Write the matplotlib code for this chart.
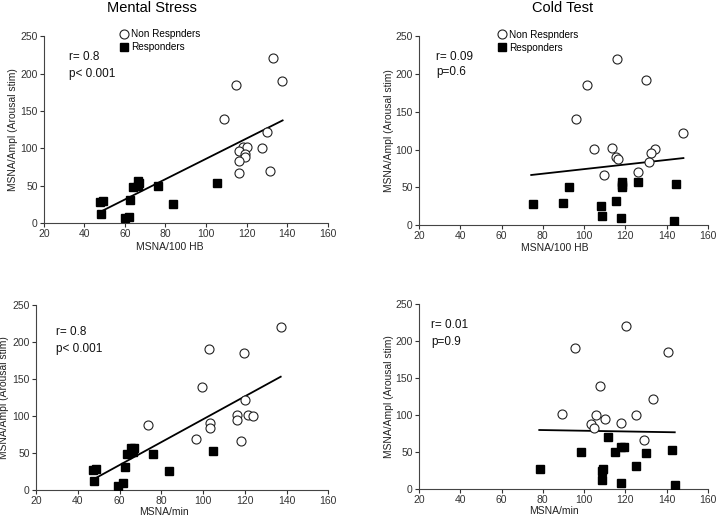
import matplotlib
matplotlib.use("Agg")
import matplotlib.pyplot as plt

plt.rcParams['font.family'] = ['Liberation Sans', 'DejaVu Sans']

# --- Mental stress, MSNA/100 HB ---
ms_hb_non_x = [133.2, 137.5, 114.8, 109.1, 130.1, 127.8, 118.1, 120.4, 116.5, 119.4, 119.2, 116.1, 116.1, 131.6]
ms_hb_non_y = [220.5, 190.6, 185.3, 138.8, 121.4, 100.4, 101.3, 101.3, 96, 92, 88, 83, 67.4, 70]
ms_hb_resp_x = [47.8, 49.1, 48.3, 62.7, 60.1, 62.2, 64.2, 66.3, 66.5, 66.8, 76.2, 83.9, 105.4]
ms_hb_resp_y = [27.7, 29, 12, 30.8, 6.3, 8.9, 49, 56.7, 50.4, 53.6, 50, 26.3, 53.6]
ms_hb_fit_x = [46.8, 137.8]
ms_hb_fit_y = [13.8, 137.5]

# --- Cold test, MSNA/100 HB ---
ct_hb_non_x = [115.9, 130, 101.4, 96.1, 148.2, 104.9, 113.8, 134.5, 132.4, 115.3, 116.6, 131.6, 109.6, 126.4]
ct_hb_non_y = [220.5, 191.9, 185.7, 140, 121.5, 101.2, 102.6, 100.8, 95, 90.7, 87.1, 84, 66.5, 70]
ct_hb_resp_x = [75.1, 89.6, 92.5, 108.3, 108.8, 115.7, 118.3, 118.5, 118.4, 117.7, 126, 144.7, 143.6]
ct_hb_resp_y = [28.2, 29, 51, 26, 11.9, 31.7, 56.8, 50.2, 53.5, 9.7, 57.2, 54.1, 5.7]
ct_hb_fit_x = [74.4, 148.2]
ct_hb_fit_y = [66.5, 88.9]

# --- Mental stress, MSNA/min ---
ms_min_non_x = [137.4, 102.8, 119.4, 99.7, 120, 73.6, 116.3, 116.3, 121.3, 124, 103.4, 103.4, 96.5, 118.2]
ms_min_non_y = [220.7, 190.5, 184.7, 139.2, 121.2, 87.4, 100.9, 95, 100.9, 100.5, 90.5, 84.2, 68.9, 65.8]
ms_min_resp_x = [47.1, 48.9, 47.9, 62.4, 59.5, 61.8, 63.7, 65.6, 66.7, 66.3, 75.8, 83.8, 105]
ms_min_resp_y = [27, 27.9, 12.2, 31.1, 5.9, 9, 48.6, 56.8, 57.2, 51.4, 49.1, 25.7, 53.2]
ms_min_fit_x = [48.7, 137.2]
ms_min_fit_y = [16.2, 153.2]

# --- Cold test, MSNA/min ---
ct_min_non_x = [120.3, 95.6, 140.5, 107.7, 133.5, 89.1, 105.6, 125.1, 110, 117.7, 103.6, 104.9, 129.2]
ct_min_non_y = [220.7, 190.5, 185.1, 139.6, 121.2, 101.4, 100, 100, 94.6, 89.6, 87.8, 82.9, 66.2]
ct_min_resp_x = [78.5, 98.6, 111.7, 115.1, 119.6, 117.9, 129.9, 125.1, 109.1, 108.8, 108.5, 118, 142.6, 144]
ct_min_resp_y = [27, 50.5, 69.8, 49.5, 56.8, 56.8, 48.2, 30.6, 27, 24.8, 11.7, 8.6, 53.2, 5.4]
ct_min_fit_x = [78.3, 144]
ct_min_fit_y = [79.7, 76.6]

panels = [
    dict(pos=[0.061, 0.570, 0.394, 0.360], non=(ms_hb_non_x, ms_hb_non_y), resp=(ms_hb_resp_x, ms_hb_resp_y),
         fit=(ms_hb_fit_x, ms_hb_fit_y), xlabel='MSNA/100 HB', stats=('r= 0.8', 'p< 0.001'),
         tpos=(0.088, 0.888, 0.80), legend=(0.255, 1.06), xl=(0.444, -0.10), yl=-0.092),
    dict(pos=[0.582, 0.566, 0.401, 0.364], non=(ct_hb_non_x, ct_hb_non_y), resp=(ct_hb_resp_x, ct_hb_resp_y),
         fit=(ct_hb_fit_x, ct_hb_fit_y), xlabel='MSNA/100 HB', stats=('r= 0.09', 'p=0.6'),
         tpos=(0.059, 0.889, 0.81), legend=(0.26, 1.055), xl=(0.47, -0.095), yl=-0.087),
    dict(pos=[0.050, 0.056, 0.406, 0.356], non=(ms_min_non_x, ms_min_non_y), resp=(ms_min_resp_x, ms_min_resp_y),
         fit=(ms_min_fit_x, ms_min_fit_y), xlabel='MSNA/min', stats=('r= 0.8', 'p< 0.001'),
         tpos=(0.068, 0.854, 0.762), legend=None, xl=(0.438, -0.095), yl=-0.092),
    dict(pos=[0.582, 0.058, 0.401, 0.356], non=(ct_min_non_x, ct_min_non_y), resp=(ct_min_resp_x, ct_min_resp_y),
         fit=(ct_min_fit_x, ct_min_fit_y), xlabel='MSNA/min', stats=('r= 0.01', 'p=0.9'),
         tpos=(0.042, 0.886, 0.795), legend=None, xl=(0.467, -0.095), yl=-0.087),
]

fig = plt.figure(figsize=(7.2, 5.19), dpi=100)

for p in panels:
    ax = fig.add_axes(p['pos'])
    ax.plot(p['fit'][0], p['fit'][1], color='black', lw=1.3, zorder=2)
    ax.plot(p['non'][0], p['non'][1], 'o', ms=6.5, mfc='white', mec='#222222', mew=0.8,
            label='Non Respnders', zorder=3)
    ax.plot(p['resp'][0], p['resp'][1], 's', ms=6, mfc='black', mec='black',
            label='Responders', zorder=3)
    ax.set_xlim(20, 160)
    ax.set_ylim(0, 250)
    ax.set_xticks(range(20, 161, 20))
    ax.set_yticks(range(0, 251, 50))
    for s in ['top', 'right']:
        ax.spines[s].set_visible(False)
    ax.spines['left'].set_color('#444444')
    ax.spines['bottom'].set_color('#444444')
    ax.tick_params(labelsize=7.5, length=3, width=0.8, colors='#333333', pad=1.5)
    ax.set_xlabel(p['xlabel'], fontsize=7.5, color='#222222')
    ax.xaxis.set_label_coords(*p['xl'])
    ax.set_ylabel('MSNA/Ampl (Arousal stim)', fontsize=7.4, color='#222222')
    ax.yaxis.set_label_coords(p['yl'], 0.5)
    tx, ty1, ty2 = p['tpos']
    ax.text(tx, ty1, p['stats'][0], transform=ax.transAxes, fontsize=8.5, va='center', color='#111111')
    ax.text(tx, ty2, p['stats'][1], transform=ax.transAxes, fontsize=8.5, va='center', color='#111111')
    if p['legend'] is not None:
        ax.legend(loc='upper left', bbox_to_anchor=p['legend'], frameon=False, fontsize=7.2,
                  handlelength=0.8, handletextpad=0.3, labelspacing=0.3, borderaxespad=0)

fig.text(152 / 720, 1 - 8 / 519, 'Mental Stress', fontsize=10.5, ha='center', va='center')
fig.text(563 / 720, 1 - 8 / 519, 'Cold Test', fontsize=10.5, ha='center', va='center')

fig.savefig('out.png', dpi=100)
